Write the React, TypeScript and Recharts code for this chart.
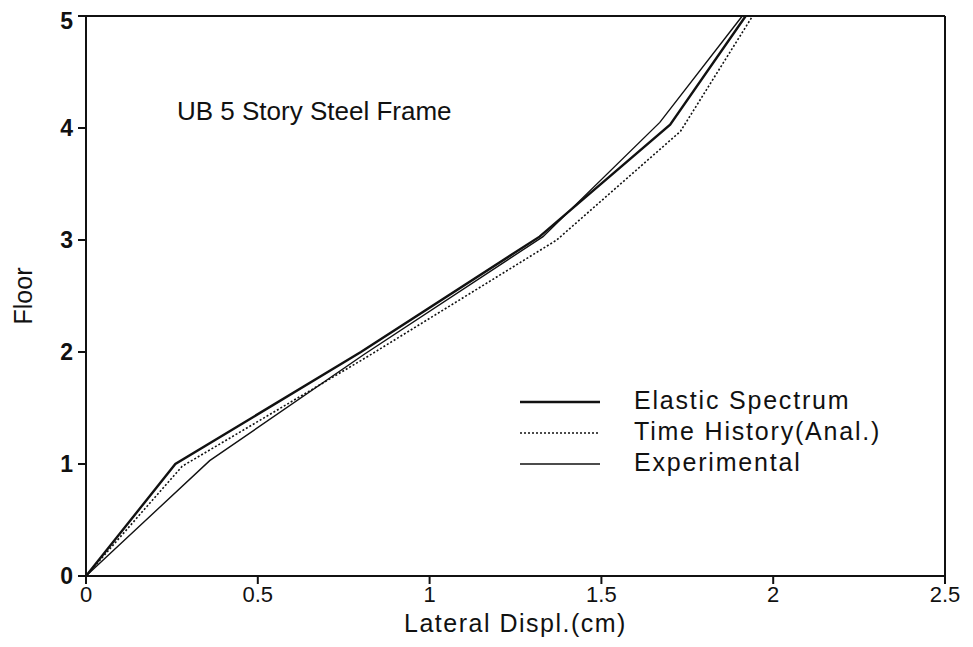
import React from "react";
import {
  LineChart,
  Line,
  XAxis,
  YAxis,
  Legend,
  ReferenceLine,
} from "recharts";

// floor levels (y) for every curve
const floors = [0, 1, 2, 3, 4, 5];

// lateral displacement (cm), per floor
const elasticDispl = [0, 0.26, 0.8, 1.32, 1.7, 1.92];
const elasticFloor = [0, 1.0, 2.0, 3.03, 4.03, 5];

const timeHistoryDispl = [0, 0.28, 0.82, 1.37, 1.73, 1.94];
const timeHistoryFloor = [0, 0.98, 1.96, 3.0, 3.97, 5];

const experimentalDispl = [0, 0.36, 0.81, 1.33, 1.67, 1.91];
const experimentalFloor = [0, 1.03, 1.98, 3.03, 4.05, 5];

const xTicks = [0, 0.5, 1, 1.5, 2, 2.5];
const yTicks = floors;

const seriesNames = ["Elastic Spectrum", "Time History(Anal.)", "Experimental"];

const toPoints = (xs: number[], ys: number[]) =>
  xs.map((x, i) => ({ x, y: ys[i] }));

const elasticData = toPoints(elasticDispl, elasticFloor);
const timeHistoryData = toPoints(timeHistoryDispl, timeHistoryFloor);
const experimentalData = toPoints(experimentalDispl, experimentalFloor);

const FONT = "Arial, 'Liberation Sans', Helvetica, sans-serif";
const INK = "#111";

function LegendBox({ payload }: { payload?: any[] }) {
  if (!payload) return null;
  // keep the order of the original figure, not alphabetical
  const items = [...payload].sort(
    (a, b) => seriesNames.indexOf(a.value) - seriesNames.indexOf(b.value)
  );
  return (
    <div
      style={{
        fontFamily: FONT,
        fontSize: 25,
        letterSpacing: 1.8,
        color: INK,
      }}
    >
      {items.map((entry, i) => (
        <div
          key={i}
          style={{ display: "flex", alignItems: "center", height: 31 }}
        >
          <svg width={90} height={10} style={{ marginRight: 32 }}>
            <line
              x1={8}
              y1={6}
              x2={88}
              y2={6}
              stroke={INK}
              strokeWidth={entry.payload?.strokeWidth ?? 1.5}
              strokeDasharray={entry.payload?.strokeDasharray}
            />
          </svg>
          <span>{entry.value}</span>
        </div>
      ))}
    </div>
  );
}

export default function App() {
  return (
    <div style={{ position: "relative", width: 957, height: 639 }}>
      <LineChart
        width={957}
        height={639}
        margin={{ top: 8, right: 20, bottom: 0, left: 0 }}
      >
        <XAxis
          dataKey="x"
          type="number"
          domain={[0, 2.5]}
          ticks={xTicks}
          tickSize={8}
          height={71}
          stroke={INK}
          strokeWidth={2}
          tick={{ fontSize: 22, fill: INK, fontFamily: FONT }}
          label={{
            content: ({ viewBox }: any) => (
              <text
                x={viewBox.x + viewBox.width / 2}
                y={viewBox.y + 56}
                textAnchor="middle"
                fontSize={25}
                letterSpacing={1.5}
                fill={INK}
                fontFamily={FONT}
              >
                Lateral Displ.(cm)
              </text>
            ),
          }}
        />
        <YAxis
          dataKey="y"
          type="number"
          domain={[0, 5]}
          ticks={yTicks}
          tickSize={8}
          width={78}
          stroke={INK}
          strokeWidth={2}
          tick={{
            fontSize: 23,
            fill: INK,
            fontFamily: FONT,
            fontWeight: 700,
            dx: -3,
          }}
          label={{
            content: ({ viewBox }: any) => {
              const cx = viewBox.x + 17;
              const cy = viewBox.y + viewBox.height / 2;
              return (
                <text
                  x={cx}
                  y={cy}
                  transform={`rotate(-90 ${cx} ${cy})`}
                  textAnchor="middle"
                  dominantBaseline="middle"
                  fontSize={25}
                  fill={INK}
                  fontFamily={FONT}
                >
                  Floor
                </text>
              );
            },
          }}
        />
        <ReferenceLine y={5} stroke={INK} strokeWidth={2} />
        <ReferenceLine x={2.5} stroke={INK} strokeWidth={2} />
        <Legend
          layout="vertical"
          align="center"
          verticalAlign="middle"
          content={<LegendBox />}
          wrapperStyle={{ left: 504, top: 377, width: 440 }}
        />
        <Line
          data={elasticData}
          dataKey="y"
          name={seriesNames[0]}
          stroke={INK}
          strokeWidth={2.4}
          dot={false}
          isAnimationActive={false}
        />
        <Line
          data={timeHistoryData}
          dataKey="y"
          name={seriesNames[1]}
          stroke={INK}
          strokeWidth={1.6}
          strokeDasharray="2 2"
          dot={false}
          isAnimationActive={false}
        />
        <Line
          data={experimentalData}
          dataKey="y"
          name={seriesNames[2]}
          stroke={INK}
          strokeWidth={1.4}
          dot={false}
          isAnimationActive={false}
        />
      </LineChart>
      <div
        style={{
          position: "absolute",
          left: 169,
          top: 88,
          fontFamily: FONT,
          fontSize: 26,
          color: INK,
          whiteSpace: "nowrap",
        }}
      >
        UB 5 Story Steel Frame
      </div>
    </div>
  );
}
